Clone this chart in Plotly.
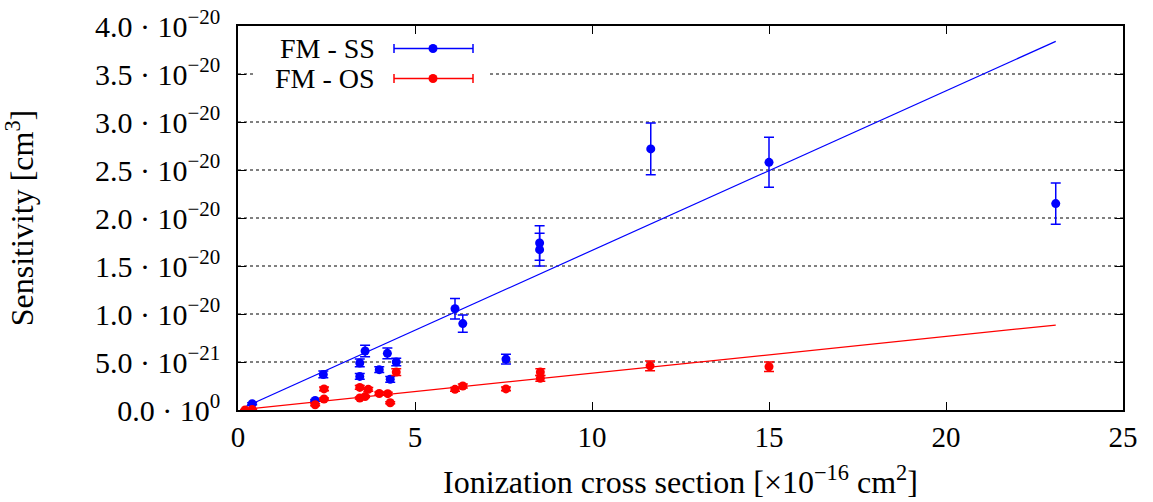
import plotly.graph_objects as go

# ---------------- data (sensitivity in units of 1e-20 cm^3) ----------------
ss_x = [0.4, 2.18, 2.41, 3.44, 3.44, 3.59, 3.99, 4.22, 4.30, 4.47,
        6.13, 6.35, 7.57, 8.52, 8.52, 11.66, 15.0, 23.1]
ss_y = [0.065, 0.10, 0.37, 0.49, 0.35, 0.615, 0.42, 0.59, 0.32, 0.50,
        1.055, 0.90, 0.53, 1.74, 1.67, 2.72, 2.58, 2.15]
ss_err = [0.01, 0.01, 0.035, 0.04, 0.03, 0.06, 0.03, 0.055, 0.03, 0.04,
          0.107, 0.09, 0.05, 0.18, 0.17, 0.27, 0.26, 0.215]

os_x = [0.2, 0.4, 2.18, 2.43, 2.43, 3.44, 3.44, 3.59, 3.68, 3.99,
        4.23, 4.30, 4.47, 6.13, 6.35, 7.57, 8.54, 8.54, 11.64, 15.0]
os_y = [0.0, 0.005, 0.055, 0.115, 0.22, 0.235, 0.125, 0.14, 0.215, 0.172,
        0.17, 0.076, 0.395, 0.215, 0.25, 0.22, 0.395, 0.33, 0.46, 0.45]
os_err = [0.005, 0.005, 0.01, 0.01, 0.02, 0.02, 0.01, 0.01, 0.02, 0.015,
          0.015, 0.01, 0.035, 0.02, 0.02, 0.02, 0.035, 0.03, 0.05, 0.05]

fit_x = [0.2, 23.1]
ss_fit = [0.033, 3.84]
os_fit = [0.008, 0.885]

y_tickvals = [0, 0.5, 1.0, 1.5, 2.0, 2.5, 3.0, 3.5, 4.0]
y_mant = ["0.0", "5.0", "1.0", "1.5", "2.0", "2.5", "3.0", "3.5", "4.0"]
y_exp = ["0", "−21", "−20", "−20", "−20", "−20", "−20", "−20", "−20"]
y_ticktext = [f"{m} · 10<sup>{e}</sup>" for m, e in zip(y_mant, y_exp)]
x_tickvals = [0, 5, 10, 15, 20, 25]

BLUE = "#0000ff"
RED = "#ff0000"
FONT = "Liberation Serif"

fig = go.Figure()

fig.add_trace(go.Scatter(x=fit_x, y=ss_fit, mode="lines",
                         line=dict(color=BLUE, width=1.2), showlegend=False))
fig.add_trace(go.Scatter(x=fit_x, y=os_fit, mode="lines",
                         line=dict(color=RED, width=1.2), showlegend=False))
fig.add_trace(go.Scatter(x=ss_x, y=ss_y, mode="markers", name="FM - SS",
                         marker=dict(color=BLUE, size=9),
                         error_y=dict(type="data", array=ss_err, color=BLUE,
                                      thickness=1.5, width=5),
                         showlegend=False))
fig.add_trace(go.Scatter(x=os_x, y=os_y, mode="markers", name="FM - OS",
                         marker=dict(color=RED, size=9),
                         error_y=dict(type="data", array=os_err, color=RED,
                                      thickness=1.5, width=5),
                         showlegend=False))

FIG_W, FIG_H = 1153, 502
# plot area in screen pixels
L, T, W, H = 238, 26, 885, 384


def fx(px):
    return (px - L) / W


def fy(py):
    return (T + H - py) / H


shapes = []
# dotted horizontal grid lines (drawn as shapes so the key box can hide them)
for v in y_tickvals[1:-1]:
    shapes.append(dict(type="line", xref="x domain", yref="y",
                       x0=0, x1=1, y0=v, y1=v, layer="below",
                       line=dict(color="black", width=1, dash="dot")))
# opaque key background hiding the grid
shapes.append(dict(type="rect", xref="x domain", yref="y domain",
                   x0=fx(255), x1=fx(490), y0=fy(92), y1=fy(30),
                   fillcolor="white", line=dict(width=0), layer="below"))
annotations = []
for label, color, py in [("FM - SS", BLUE, 48.5), ("FM - OS", RED, 78.5)]:
    annotations.append(dict(text=label, xref="x domain", yref="y domain",
                            x=fx(377), y=fy(py), xanchor="right",
                            yanchor="middle", showarrow=False,
                            font=dict(family=FONT, size=28, color="black")))
    shapes.append(dict(type="line", xref="x domain", yref="y domain",
                       x0=fx(394), x1=fx(473), y0=fy(py), y1=fy(py),
                       line=dict(color=color, width=1.5)))
    for cx in (394, 473):
        shapes.append(dict(type="line", xref="x domain", yref="y domain",
                           x0=fx(cx), x1=fx(cx), y0=fy(py - 4.5), y1=fy(py + 4.5),
                           line=dict(color=color, width=1.5)))
    shapes.append(dict(type="circle", xref="x domain", yref="y domain",
                       x0=fx(433 - 4.5), x1=fx(433 + 4.5),
                       y0=fy(py + 4.5), y1=fy(py - 4.5),
                       fillcolor=color, line=dict(color=color, width=0)))

fig.update_layout(
    width=FIG_W, height=FIG_H,
    margin=dict(l=L, r=FIG_W - L - W, t=T, b=FIG_H - T - H),
    plot_bgcolor="white", paper_bgcolor="white",
    font=dict(family=FONT, size=30, color="black"),
    shapes=shapes, annotations=annotations,
    xaxis=dict(range=[0, 25], tickvals=x_tickvals, ticks="inside", ticklen=8,
               tickwidth=1.2, tickcolor="black", showline=True,
               linecolor="black", linewidth=1.5, mirror="ticks",
               showgrid=False, zeroline=False, automargin=False,
               ticklabeloverflow="allow",
               tickfont=dict(size=29),
               title=dict(text="Ionization cross section [×10<sup>−16</sup> cm<sup>2</sup>]",
                          standoff=19, font=dict(size=32))),
    yaxis=dict(range=[0, 4.0], tickvals=y_tickvals, ticktext=y_ticktext,
               ticks="inside", ticklen=8, tickwidth=1.2, tickcolor="black",
               showline=True, linecolor="black", linewidth=1.5,
               mirror="ticks", showgrid=False, zeroline=False, automargin=False,
               ticklabeloverflow="allow", ticklabelstandoff=10,
               tickfont=dict(size=30),
               title=dict(text="Sensitivity [cm<sup>3</sup>]", standoff=60,
                          font=dict(size=32))),
)

fig.write_html("out.html", config={"displayModeBar": False},
               post_script="document.body.style.margin='0';")
